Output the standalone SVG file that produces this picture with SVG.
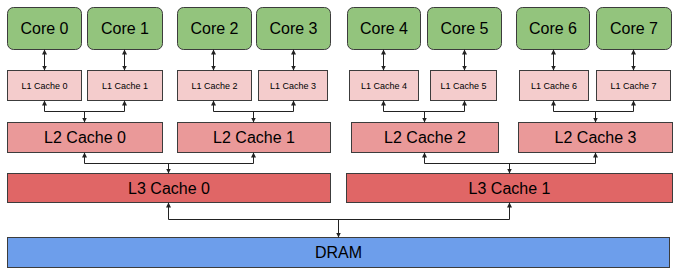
<svg xmlns="http://www.w3.org/2000/svg" width="676" height="273" viewBox="0 0 676 273">
<defs>
<marker id="ah" markerUnits="userSpaceOnUse" markerWidth="5" markerHeight="5" refX="5" refY="2.5" orient="auto-start-reverse">
<path d="M0,0 L5,2.5 L0,5 z" fill="#222"/>
</marker>
<style>
.core{fill:#93c47d;stroke:#3c3c3c;stroke-width:1}
.l1{fill:#f4cccc;stroke:#3c3c3c;stroke-width:1}
.l2{fill:#ea9999;stroke:#3c3c3c;stroke-width:1}
.l3{fill:#e06666;stroke:#3c3c3c;stroke-width:1}
.dram{fill:#6d9eeb;stroke:#3c3c3c;stroke-width:1}
text{font-family:"Liberation Sans",Arial,sans-serif;fill:#000;text-anchor:middle}
.big{font-size:16px}
.small{font-size:9px}
.c{fill:none;stroke:#222;stroke-width:1}
.d{marker-start:url(#ah);marker-end:url(#ah)}
.e{marker-end:url(#ah)}
</style>
</defs>
<g id="core0"><rect class="core" x="7.5" y="7.5" width="74" height="42" rx="6"/><text class="big" x="44.5" y="34">Core 0</text></g>
<g id="core1"><rect class="core" x="87.5" y="7.5" width="75" height="42" rx="6"/><text class="big" x="125" y="34">Core 1</text></g>
<g id="core2"><rect class="core" x="177.5" y="7.5" width="74" height="42" rx="6"/><text class="big" x="214.5" y="34">Core 2</text></g>
<g id="core3"><rect class="core" x="256.5" y="7.5" width="74" height="42" rx="6"/><text class="big" x="293.5" y="34">Core 3</text></g>
<g id="core4"><rect class="core" x="347.5" y="7.5" width="73" height="42" rx="6"/><text class="big" x="384" y="34">Core 4</text></g>
<g id="core5"><rect class="core" x="427.5" y="7.5" width="74" height="42" rx="6"/><text class="big" x="464.5" y="34">Core 5</text></g>
<g id="core6"><rect class="core" x="516.5" y="7.5" width="73" height="42" rx="6"/><text class="big" x="553" y="34">Core 6</text></g>
<g id="core7"><rect class="core" x="596.5" y="7.5" width="75" height="42" rx="6"/><text class="big" x="634" y="34">Core 7</text></g>

<g id="l1c0"><rect class="l1" x="7.5" y="70.5" width="74" height="30"/><text class="small" x="44.5" y="88.5">L1 Cache 0</text></g>
<g id="l1c1"><rect class="l1" x="87.5" y="70.5" width="75" height="30"/><text class="small" x="125" y="88.5">L1 Cache 1</text></g>
<g id="l1c2"><rect class="l1" x="177.5" y="70.5" width="74" height="30"/><text class="small" x="214.5" y="88.5">L1 Cache 2</text></g>
<g id="l1c3"><rect class="l1" x="258.5" y="70.5" width="69" height="30"/><text class="small" x="293" y="88.5">L1 Cache 3</text></g>
<g id="l1c4"><rect class="l1" x="349.5" y="70.5" width="69" height="30"/><text class="small" x="384" y="88.5">L1 Cache 4</text></g>
<g id="l1c5"><rect class="l1" x="430.5" y="70.5" width="66" height="30"/><text class="small" x="463.5" y="88.5">L1 Cache 5</text></g>
<g id="l1c6"><rect class="l1" x="519.5" y="70.5" width="69" height="30"/><text class="small" x="554" y="88.5">L1 Cache 6</text></g>
<g id="l1c7"><rect class="l1" x="596.5" y="70.5" width="74" height="30"/><text class="small" x="633.5" y="88.5">L1 Cache 7</text></g>

<g id="l2c0"><rect class="l2" x="7.5" y="122.5" width="155" height="30"/><text class="big" x="85" y="143">L2 Cache 0</text></g>
<g id="l2c1"><rect class="l2" x="177.5" y="122.5" width="153" height="30"/><text class="big" x="254" y="143">L2 Cache 1</text></g>
<g id="l2c2"><rect class="l2" x="351.5" y="122.5" width="147" height="30"/><text class="big" x="425" y="143">L2 Cache 2</text></g>
<g id="l2c3"><rect class="l2" x="518.5" y="122.5" width="154" height="30"/><text class="big" x="595.5" y="143">L2 Cache 3</text></g>

<g id="l3c0"><rect class="l3" x="7.5" y="173.5" width="323" height="29"/><text class="big" x="169" y="193.5">L3 Cache 0</text></g>
<g id="l3c1"><rect class="l3" x="346.5" y="173.5" width="326" height="29"/><text class="big" x="509.5" y="193.5">L3 Cache 1</text></g>

<g id="dram"><rect class="dram" x="7.5" y="237.5" width="662" height="30"/><text class="big" x="338.5" y="258">DRAM</text></g>

<g id="connectors">
<path class="c d" d="M44.5,49.5 V70.5"/>
<path class="c d" d="M124.5,49.5 V70.5"/>
<path class="c d" d="M213.5,49.5 V70.5"/>
<path class="c d" d="M293.5,49.5 V70.5"/>
<path class="c d" d="M383.5,49.5 V70.5"/>
<path class="c d" d="M464.5,49.5 V70.5"/>
<path class="c d" d="M553.5,49.5 V70.5"/>
<path class="c d" d="M633.5,49.5 V70.5"/>

<path class="c d" d="M44.5,100.5 V111.5 H124.5 V100.5"/>
<path class="c e" d="M84.5,111.5 V122.5"/>
<path class="c d" d="M213.5,100.5 V111.5 H293.5 V100.5"/>
<path class="c e" d="M253.5,111.5 V122.5"/>
<path class="c d" d="M383.5,100.5 V111.5 H464.5 V100.5"/>
<path class="c e" d="M424.5,111.5 V122.5"/>
<path class="c d" d="M553.5,100.5 V111.5 H633.5 V100.5"/>
<path class="c e" d="M595.5,111.5 V122.5"/>

<path class="c d" d="M84.5,152.5 V163.5 H253.5 V152.5"/>
<path class="c e" d="M168.5,163.5 V173.5"/>
<path class="c d" d="M424.5,152.5 V163.5 H595.5 V152.5"/>
<path class="c e" d="M509.5,163.5 V173.5"/>

<path class="c d" d="M168.5,202.5 V219.5 H509.5 V202.5"/>
<path class="c e" d="M338.5,219.5 V237.5"/>
</g>
</svg>
